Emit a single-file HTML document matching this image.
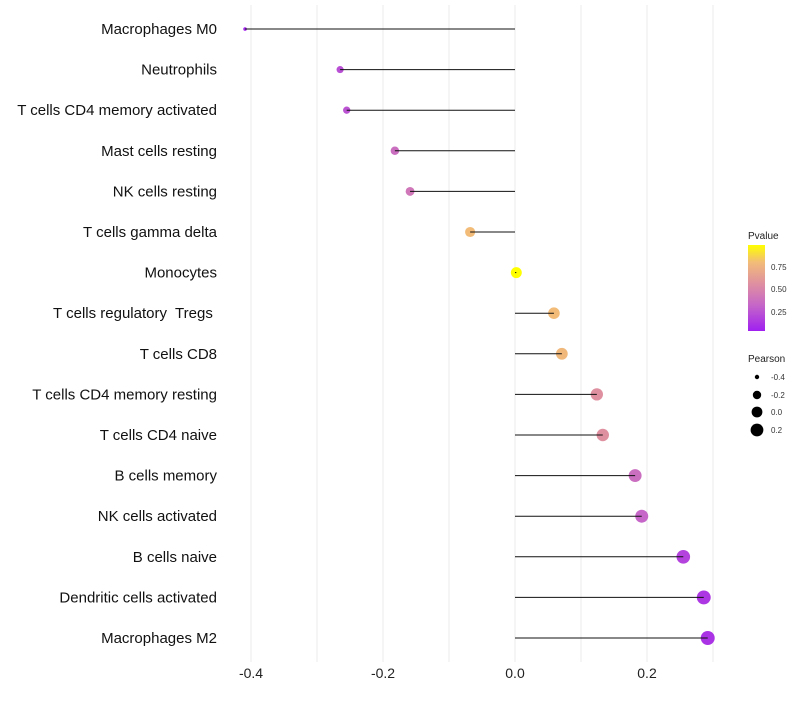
<!DOCTYPE html>
<html><head><meta charset="utf-8"><style>
body{margin:0;background:#fff;font-family:"Liberation Sans",sans-serif}
</style></head><body>
<svg id="chart" width="800" height="700" xmlns="http://www.w3.org/2000/svg">
<defs><linearGradient id="pg" x1="0" y1="1" x2="0" y2="0">
<stop offset="0" stop-color="#a020f0"/><stop offset="0.3" stop-color="#c566c8"/><stop offset="0.55" stop-color="#df90a0"/><stop offset="0.8" stop-color="#f2bc78"/><stop offset="1" stop-color="#ffff00"/></linearGradient></defs>
<g id="grid"></g><g id="marks"></g><g id="ylab"></g><g id="xlab"></g>
<g id="legend">
<text x="748" y="239" font-size="10" fill="#222">Pvalue</text>
<rect x="748" y="245" width="17" height="86" fill="url(#pg)"/>
<text x="771" y="270" font-size="8" fill="#333">0.75</text>
<text x="771" y="292" font-size="8" fill="#333">0.50</text>
<text x="771" y="315" font-size="8" fill="#333">0.25</text>
<text x="748" y="362" font-size="10" fill="#222">Pearson</text>
<circle cx="757" cy="377" r="2.2" fill="#000"/><text x="771" y="380" font-size="8" fill="#333">-0.4</text>
<circle cx="757" cy="395" r="4.2" fill="#000"/><text x="771" y="398" font-size="8" fill="#333">-0.2</text>
<circle cx="757" cy="412" r="5.4" fill="#000"/><text x="771" y="415" font-size="8" fill="#333">0.0</text>
<circle cx="757" cy="430" r="6.4" fill="#000"/><text x="771" y="433" font-size="8" fill="#333">0.2</text>
</g>
</svg>
<script>
const categories=["Macrophages M0","Neutrophils","T cells CD4 memory activated","Mast cells resting","NK cells resting","T cells gamma delta","Monocytes","T cells regulatory  Tregs ","T cells CD8","T cells CD4 memory resting","T cells CD4 naive","B cells memory","NK cells activated","B cells naive","Dendritic cells activated","Macrophages M2"];
const pearson=[-0.409,-0.265,-0.255,-0.182,-0.159,-0.068,0.002,0.059,0.071,0.124,0.133,0.182,0.192,0.255,0.286,0.292];
const pvalues=[0.02,0.2,0.22,0.35,0.4,0.8,1.0,0.8,0.78,0.55,0.55,0.35,0.3,0.15,0.1,0.08];
const xTicks=[-0.4,-0.2,0.0,0.2];
const xTickLabels=["-0.4","-0.2","0.0","0.2"];
const minorTicks=[-0.3,-0.1,0.1,0.3];
const NS="http://www.w3.org/2000/svg";
const x=v=>515+v*660;
const y=i=>29+i*40.6;
const r=v=>Math.sqrt(3.2+(v+0.41)*65);
function lerp(a,b,t){return Math.round(a+(b-a)*t);}
const stops=[[0,[160,32,240]],[0.3,[197,102,200]],[0.55,[223,144,160]],[0.8,[242,188,120]],[1,[255,255,0]]];
function col(p){for(let k=1;k<stops.length;k++){if(p<=stops[k][0]){const t=(p-stops[k-1][0])/(stops[k][0]-stops[k-1][0]);const a=stops[k-1][1],b=stops[k][1];return `rgb(${lerp(a[0],b[0],t)},${lerp(a[1],b[1],t)},${lerp(a[2],b[2],t)})`;}}return "rgb(255,255,0)";}
function mk(tag,attrs,parent){const e=document.createElementNS(NS,tag);for(const k in attrs)e.setAttribute(k,attrs[k]);document.getElementById(parent).appendChild(e);return e;}
minorTicks.concat(xTicks).forEach(v=>{const l=mk("line",{x1:x(v),x2:x(v),y1:5,y2:662,stroke:"#ebebeb","stroke-width":1},"grid");

});
xTicks.forEach((v,i)=>{const t=mk("text",{x:x(v),y:678,"font-size":14,"text-anchor":"middle",fill:"#222"},"xlab");t.textContent=xTickLabels[i];

});
categories.forEach((c,i)=>{
const t=mk("text",{x:217,y:y(i)+5,"font-size":15,"text-anchor":"end",fill:"#111"},"ylab");t.textContent=c;
t.setAttribute('style','white-space:pre');


const d=mk("circle",{cx:x(pearson[i]),cy:y(i),r:r(pearson[i]),fill:col(pvalues[i])},"marks");


const l=mk("line",{x1:x(0),x2:x(pearson[i]),y1:y(i),y2:y(i),stroke:"#111","stroke-width":1},"marks");


});
</script>
</body></html>
